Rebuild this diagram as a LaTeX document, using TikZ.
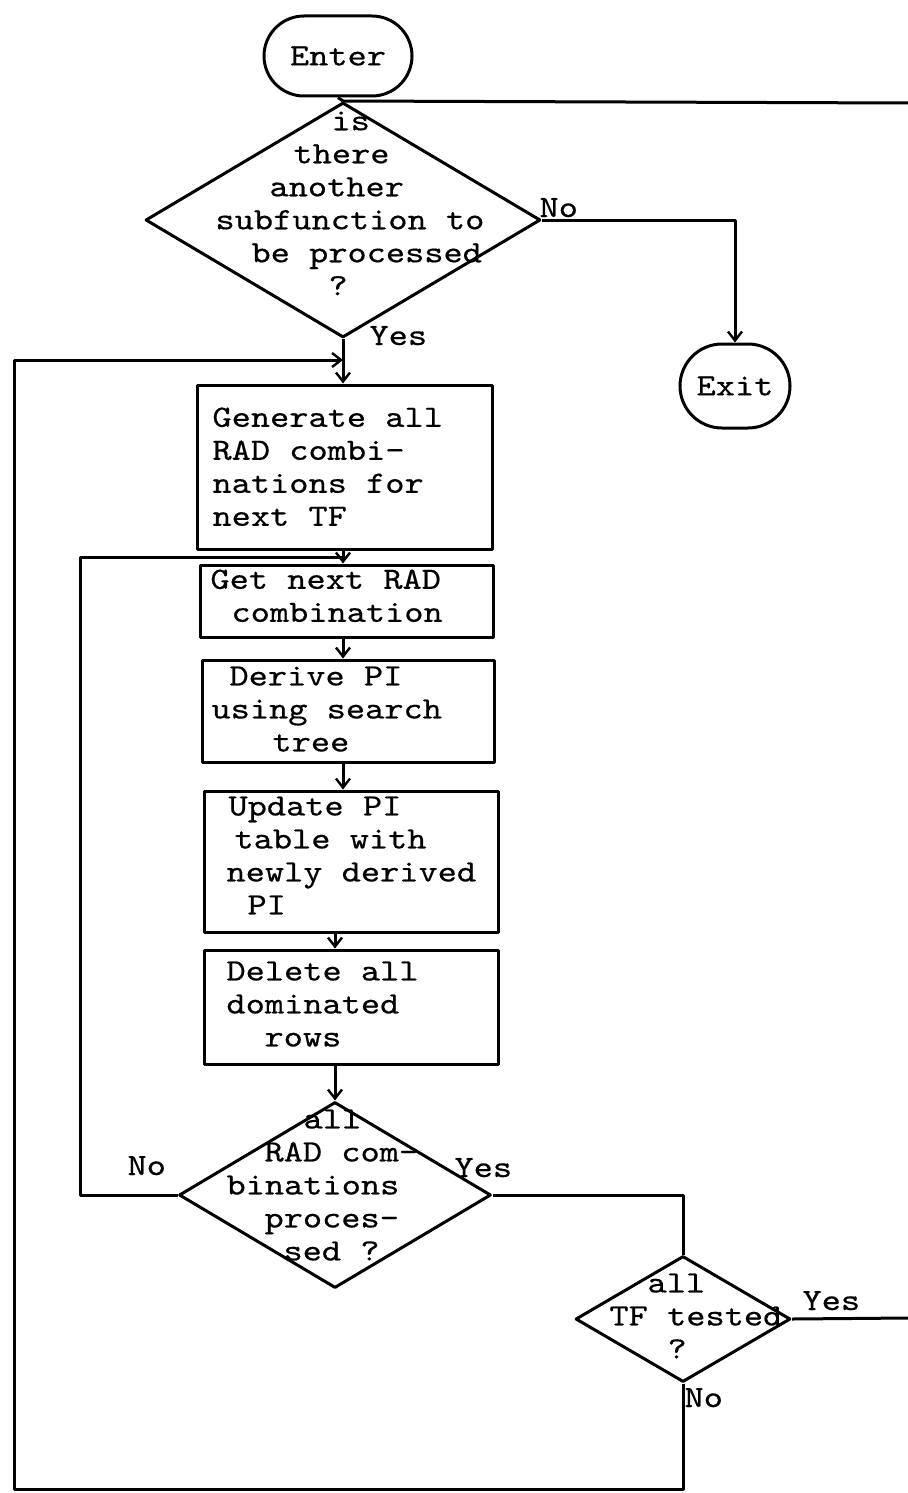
\documentclass[tikz,border=0pt]{standalone}
\usepackage{fontspec}
\newfontfamily\twfont{lmmono10-regular.otf}[FakeStretch=1.18,FakeBold=0.5]
\usetikzlibrary{shapes.geometric,arrows.meta}

\begin{document}
\begin{tikzpicture}[x=0.5pt,y=-0.5pt,
  line width=1.5pt, line join=round,
  tw/.style={font={\fontsize{15.5}{16.5}\twfont}},
  arr/.style={-{Straight Barb[length=4.5pt,width=7pt,line width=1.2pt]}},
  term/.style={tw, draw, inner sep=0pt},
  procbox/.style={draw, rectangle, inner sep=0pt},
  decision/.style={draw, diamond, inner sep=0pt},
  txt/.style={tw, inner sep=0pt, anchor=north west, align=left,
              execute at begin node={\rule{0pt}{11pt}}},
  lbl/.style={tw, inner sep=0pt, anchor=base west}]

\useasboundingbox (0,0) rectangle (908,1493);

% terminals
\node[term, rounded corners=20pt, minimum width=74pt, minimum height=40pt] (enter) at (338,56) {Enter};
\node[term, rounded corners=21pt, minimum width=55pt, minimum height=42pt] (exit) at (735,386) {Exit};

% decisions
\node[decision, minimum width=197.5pt, minimum height=117.5pt] (d1) at (343,220) {};
\node[decision, minimum width=156pt, minimum height=93pt] (d2) at (335,1195) {};
\node[decision, minimum width=107.5pt, minimum height=63pt] (d3) at (683,1319) {};

% process boxes
\node[procbox, minimum width=147.5pt, minimum height=82pt] (gen) at (344.5,467) {};
\node[procbox, minimum width=146.5pt, minimum height=36pt] (get) at (346.5,601) {};
\node[procbox, minimum width=146pt, minimum height=51pt] (der) at (348,711) {};
\node[procbox, minimum width=147pt, minimum height=70.5pt] (upd) at (351,861.5) {};
\node[procbox, minimum width=147pt, minimum height=57pt] (del) at (351,1007) {};

% texts
\node[txt] (t-d1) at (214,110) {\hspace*{58pt}is\\\hspace*{39pt}there\\\hspace*{27pt}another\\subfunction to\\\hspace*{18pt}be processed\\\hspace*{56.5pt}?};
\node[txt] (t-gen) at (211,406) {Generate all\\RAD combi-\\nations for\\next TF};
\node[txt] (t-get) at (209,568) {Get next RAD\\\hspace*{10.5pt}combination};
\node[txt] (t-der) at (210,665) {\hspace*{9pt}Derive PI\\using search\\\hspace*{30.5pt}tree};
\node[txt] (t-upd) at (225,795) {\hspace*{1pt}Update PI\\\hspace*{4pt}table with\\newly derived\\\hspace*{10.5pt}PI};
\node[txt] (t-del) at (225,960) {Delete all\\dominated\\\hspace*{19pt}rows};
\node[txt] (t-d2) at (225,1108) {\hspace*{38.5pt}all\\\hspace*{19pt}RAD com-\\binations\\\hspace*{19pt}proces-\\\hspace*{28.5pt}sed ?};
\node[txt] (t-d3) at (608,1272) {\hspace*{19pt}all\\TF tested\\\hspace*{29pt}?};

% branch labels
\node[lbl] (l-d1no) at (538,217) {No};
\node[lbl] (l-d1yes) at (368,345) {Yes};
\node[lbl] (l-d2no) at (126,1175) {No};
\node[lbl] (l-d2yes) at (453,1177) {Yes};
\node[lbl] (l-d3yes) at (801,1310) {Yes};
\node[lbl] (l-d3no) at (683,1407) {No};

% routing points
\coordinate (r1) at (908,103);
\coordinate (r2) at (908,1318);
\coordinate (tl) at (14,360);
\coordinate (bl) at (14,1489);
\coordinate (ml) at (80,557);

% connectors
\draw (enter.south) -- (d1.north);
\draw (d1.north) -- (r1);
\draw[arr] (d1.east) -- (d1.east -| exit.north) -- (exit.north);
\draw[arr] (d1.south) -- (d1.south |- gen.north);
\draw[arr] (gen.south -| d1.south) -- (d1.south |- get.north);
\draw[arr] (get.south -| d1.south) -- (d1.south |- der.north);
\draw[arr] (der.south -| d1.south) -- (d1.south |- upd.north);
\draw[arr] (upd.south -| d2.north) -- (d2.north |- del.north);
\draw[arr] (del.south -| d2.north) -- (d2.north);
\draw (d2.west) -- (d2.west -| ml) -- (ml) -- (ml -| d1.south);
\draw (d2.east) -- (d2.east -| d3.north) -- (d3.north);
\draw (d3.east) -- (r2);
\draw[arr] (d3.south) -- (d3.south |- bl) -- (bl) -- (tl) -- (tl -| d1.south);

\end{tikzpicture}
\end{document}
